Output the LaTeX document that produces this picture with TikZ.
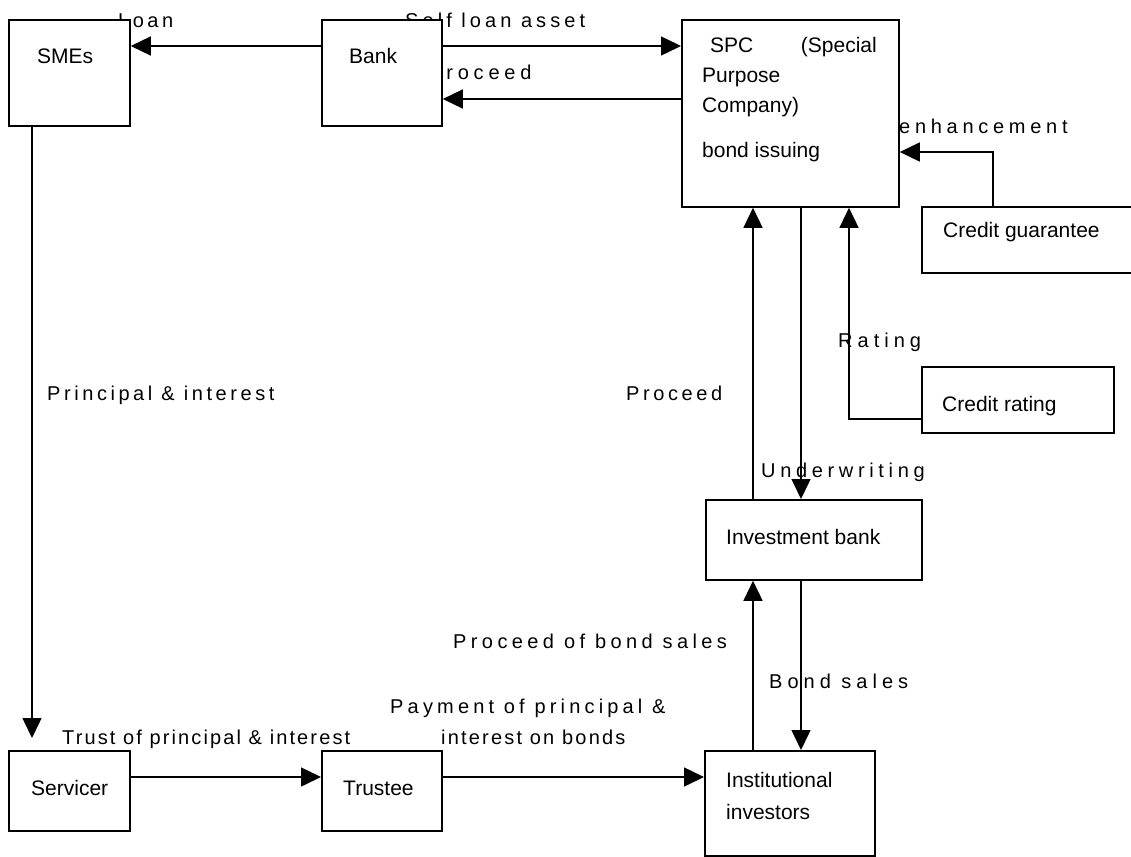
\documentclass[tikz,border=0pt]{standalone}
\usepackage{fontspec}
\setmainfont{Liberation Sans}
\usetikzlibrary{arrows.meta}
\begin{document}
\begin{tikzpicture}[x=1pt,y=-1pt,
  box/.style={draw, fill=white, line width=1.8pt, inner sep=0pt, anchor=north west},
  boxtext/.style={inner sep=0pt, anchor=base west, font=\fontsize{21}{25}\selectfont},
  flowlabel/.style={inner sep=0pt, anchor=base west,
    font=\fontsize{20}{24}\selectfont\addfontfeatures{LetterSpace=#1}},
  link/.style={line width=1.5pt, -{Triangle[length=20pt,width=19pt]}}
]
\useasboundingbox[fill=white] (0,0) rectangle (1131,856);

% flow labels (drawn first, the boxes partly cover some of them)
\node[flowlabel=17.5] (lLoan) at (118,28) {Loan};
\node[flowlabel=20.3] (lSelf) at (405,28) {Self loan asset};
\node[flowlabel=24] (lProc) at (428,80) {Proceed};
\node[flowlabel=23.6] (lEnh) at (899,133) {enhancement};
\node[flowlabel=25] (lRate) at (838,347) {Rating};
\node[flowlabel=18] (lProc2) at (626,400) {Proceed};
\node[flowlabel=17.8] (lPI) at (47,400) {Principal \& interest};
\node[flowlabel=23.3] (lUnder) at (761,477) {Underwriting};
\node[flowlabel=22] (lPBS) at (453,648) {Proceed of bond sales};
\node[flowlabel=25] (lBS) at (769,688) {Bond sales};
\node[flowlabel=20.9] (lPay) at (390,713) {Payment of principal \&};
\node[flowlabel=11] (lPay2) at (441,744) {interest on bonds};
\node[flowlabel=10.6] (lTrust) at (62,744) {Trust of principal \& interest};

% boxes
\node[box, minimum width=121pt, minimum height=106pt] (smes) at (8,19) {};
\node[box, minimum width=120pt, minimum height=106pt] (bank) at (321,19) {};
\node[box, minimum width=217pt, minimum height=187pt] (spc) at (681,19) {};
\node[box, minimum width=220pt, minimum height=66pt] (guar) at (921,206) {};
\node[box, minimum width=192pt, minimum height=66pt] (rating) at (921,366) {};
\node[box, minimum width=216pt, minimum height=80pt] (ib) at (705,499) {};
\node[box, minimum width=170pt, minimum height=105pt] (inst) at (704,750) {};
\node[box, minimum width=121pt, minimum height=80pt] (servicer) at (8,750) {};
\node[box, minimum width=120pt, minimum height=80pt] (trustee) at (321,750) {};

% box texts
\node[boxtext] (tSmes) at (37,64) {SMEs};
\node[boxtext] (tBank) at (349,64) {Bank};
\node[boxtext] (tSpc) at (710,53) {SPC};
\node[boxtext, anchor=base east] (tSpecial) at (877,53) {(Special};
\node[boxtext] (tPurpose) at (702,83) {Purpose};
\node[boxtext] (tCompany) at (702,113) {Company)};
\node[boxtext] (tBond) at (702,157) {bond issuing};
\node[boxtext] (tGuar) at (943,237) {Credit guarantee};
\node[boxtext] (tRating) at (942,411) {Credit rating};
\node[boxtext] (tIb) at (726,544) {Investment bank};
\node[boxtext] (tInst) at (726,787) {Institutional};
\node[boxtext] (tInst2) at (726,819) {investors};
\node[boxtext] (tServ) at (31,795) {Servicer};
\node[boxtext] (tTrust) at (343,795) {Trustee};

% rows and columns used by the connectors
\coordinate (yTop) at (0,46);
\coordinate (yBack) at (0,99);
\coordinate (yGuar) at (0,152);
\coordinate (yRate) at (0,419);
\coordinate (yLow) at (0,777);
\coordinate (xSme) at (32,0);
\coordinate (xUp) at (753,0);
\coordinate (xDown) at (801,0);
\coordinate (xGuar) at (993,0);
\coordinate (xRate) at (849,0);

% connectors
\draw[link] (bank.west |- yTop) -- (smes.east |- yTop);
\draw[link] (bank.east |- yTop) -- (spc.west |- yTop);
\draw[link] (spc.west |- yBack) -- (bank.east |- yBack);
\draw[link, shorten >=12pt] (smes.south -| xSme) -- (servicer.north -| xSme);
\draw[link] (servicer.east |- yLow) -- (trustee.west |- yLow);
\draw[link] (trustee.east |- yLow) -- (inst.west |- yLow);
\draw[link] (inst.north -| xUp) -- (ib.south -| xUp);
\draw[link] (ib.south -| xDown) -- (inst.north -| xDown);
\draw[link] (ib.north -| xUp) -- (spc.south -| xUp);
\draw[link] (spc.south -| xDown) -- (ib.north -| xDown);
\draw[link] (guar.north -| xGuar) |- (spc.east |- yGuar);
\draw[link] (rating.west |- yRate) -| (spc.south -| xRate);
\end{tikzpicture}
\end{document}
